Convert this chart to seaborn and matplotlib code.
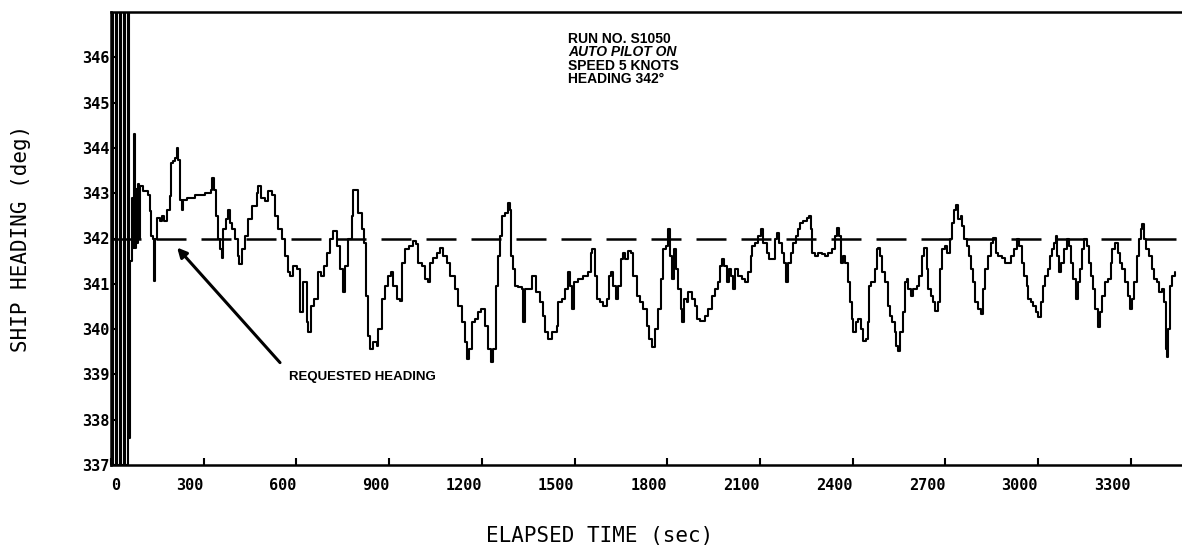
import matplotlib
matplotlib.use("Agg")
import matplotlib.pyplot as plt
import seaborn as sns
import pandas as pd

# Ship heading record, auto pilot run S1050
elapsed_s = [
    0, 4, 6, 16, 19, 29, 32, 42, 45, 55, 58, 62, 67, 70, 73, 75, 77, 80, 83, 86, 90, 94,
    105, 121, 127, 131, 137, 138, 142, 148, 157, 164, 172, 181, 191, 195, 202, 208, 212,
    218, 224, 229, 234, 245, 272, 304, 324, 327, 334, 339, 347, 353, 358, 364, 371, 378,
    385, 391, 401, 410, 414, 423, 434, 444, 455, 471, 477, 487, 499, 509, 520, 531, 542,
    553, 563, 574,
    579, 590, 601, 612, 622, 633, 639, 647, 658, 669, 680, 690, 698, 709, 720, 730, 741,
    752, 757, 768, 779, 784, 790, 798, 811, 820, 824, 833, 838, 849, 860, 865, 876, 887,
    898, 906, 914, 924, 935, 943, 951, 964, 978, 986, 995, 1005, 1016, 1025, 1032, 1043,
    1054, 1065, 1076, 1086, 1097, 1113, 1124, 1135, 1146,
    1151, 1158, 1167, 1178, 1189, 1199, 1210, 1221, 1230, 1237, 1245, 1251, 1259, 1266,
    1275, 1284, 1291, 1294, 1302, 1307, 1318, 1329, 1334, 1340, 1350, 1361, 1370, 1374,
    1388, 1399, 1404, 1413, 1426, 1442, 1448, 1458, 1469, 1480, 1485, 1493, 1499, 1512,
    1528, 1545, 1553, 1558, 1566, 1572, 1582, 1593, 1604, 1612, 1618, 1626, 1633, 1642,
    1650, 1658, 1663, 1674, 1682, 1690, 1701, 1712, 1723, 1733, 1741,
    1750, 1760, 1771, 1780, 1787, 1795, 1801, 1809, 1816, 1823, 1830, 1836, 1845, 1849,
    1855, 1863, 1868, 1879, 1890, 1895, 1906, 1922, 1933, 1944, 1955, 1963, 1971, 1978,
    1985, 1992, 2000, 2008, 2014, 2021, 2030, 2041, 2052, 2062, 2071, 2075, 2084, 2095,
    2103, 2111, 2122, 2129, 2138, 2149, 2154, 2162, 2170, 2179, 2186, 2192, 2200, 2208,
    2216, 2224, 2230, 2240, 2251, 2259, 2264, 2270, 2278, 2289, 2300,
    2310, 2321, 2332, 2343, 2348, 2356, 2362, 2370, 2377, 2384, 2391, 2397, 2402, 2410,
    2418, 2427, 2435, 2442, 2449, 2453, 2459, 2467, 2472, 2478, 2483, 2488, 2496, 2505,
    2513, 2521, 2528, 2537, 2542, 2546, 2553, 2564, 2569, 2575, 2580, 2589, 2596, 2607,
    2615, 2623, 2632, 2640, 2645, 2654, 2661, 2666, 2675, 2683, 2690, 2699, 2707, 2715,
    2723, 2729, 2734, 2742, 2751, 2755, 2761, 2769, 2776, 2783, 2791, 2796, 2805, 2815,
    2823, 2830, 2839, 2848, 2855, 2863, 2871, 2882, 2893,
    2902, 2912, 2923, 2931, 2938, 2947, 2956, 2963, 2969, 2977, 2985, 2992, 3001, 3010,
    3017, 3022, 3031, 3039, 3044, 3053, 3057, 3063, 3068, 3076, 3085, 3093, 3100, 3107,
    3114, 3122, 3128, 3136, 3143, 3150, 3157, 3165, 3173, 3179, 3186, 3193, 3200, 3208,
    3217, 3227, 3236, 3240, 3249, 3258, 3265, 3273, 3281, 3290, 3298, 3305, 3312, 3319,
    3327, 3333, 3337, 3344, 3351, 3359, 3368, 3376, 3384, 3391, 3400, 3409, 3413, 3416,
    3422, 3427, 3435, 3443,
]

heading_deg = [
    342.0, 347.0, 337.0, 347.0, 337.0, 347.0, 337.0, 347.0, 337.0, 347.0, 337.6, 341.5,
    342.9, 341.8, 343.0, 344.3, 341.8, 343.1, 341.9, 343.2, 342.0, 343.15,
    343.04, 342.97, 342.6, 342.05, 341.98, 341.06, 341.98, 342.45, 342.38, 342.5, 342.38,
    342.64, 342.93, 343.66, 343.70, 343.77, 343.99, 343.74, 342.86, 342.64, 342.86, 342.89,
    342.95, 343.0, 343.08, 343.33, 343.08, 342.49, 341.98, 341.76, 341.58, 342.2, 342.42,
    342.64, 342.34, 342.2, 341.98, 341.61, 341.43, 341.76, 342.05, 342.42, 342.71, 343.0,
    343.15, 342.89, 342.82, 343.04, 342.97, 342.49, 342.2, 341.98, 341.61, 341.25,
    341.17, 341.39, 341.32, 340.37, 341.03, 340.15, 339.93, 340.51, 340.66, 341.25, 341.17,
    341.39, 341.68, 341.98, 342.16, 341.83, 341.32, 340.81, 341.39, 341.98, 342.49, 343.08,
    343.08, 342.56, 342.2, 341.9, 340.73, 339.85, 339.56, 339.71, 339.63, 340.0, 340.66,
    340.95, 341.17, 341.25, 340.95, 340.66, 340.62, 341.47, 341.76, 341.83, 341.94, 341.87,
    341.47, 341.39, 341.10, 341.03, 341.47, 341.58, 341.68, 341.79, 341.61, 341.47, 341.17,
    340.88, 340.51, 340.15, 339.71,
    339.34, 339.56, 340.15, 340.22, 340.37, 340.44, 340.07, 339.56, 339.27, 339.56, 340.95,
    341.61, 342.05, 342.49, 342.56, 342.78, 342.64, 341.61, 341.32, 340.95, 340.92, 340.88,
    340.15, 340.88, 340.88, 341.17, 341.17, 340.81, 340.59, 340.29, 339.93, 339.78, 339.93,
    340.07, 340.59, 340.66, 340.88, 341.25, 340.95, 340.44, 341.03, 341.10, 341.17, 341.25,
    341.68, 341.76, 341.17, 340.66, 340.59, 340.51, 340.66, 341.17, 341.25, 340.95, 340.66,
    340.95, 341.54, 341.68, 341.54, 341.72, 341.68, 341.17, 340.73, 340.59, 340.44, 340.07,
    339.78,
    339.6, 340.0, 340.44, 341.10, 341.76, 341.83, 342.2, 341.61, 341.10, 341.76, 341.32,
    340.88, 340.44, 340.15, 340.66, 340.59, 340.81, 340.66, 340.51, 340.22, 340.18, 340.29,
    340.44, 340.73, 340.88, 341.03, 341.39, 341.54, 341.39, 341.03, 341.32, 341.17, 340.88,
    341.32, 341.17, 341.10, 341.03, 341.25, 341.61, 341.83, 341.90, 342.05, 342.2, 341.90,
    341.68, 341.54, 341.54, 341.98, 342.12, 341.90, 341.68, 341.47, 341.03, 341.47, 341.68,
    341.90, 342.05, 342.2, 342.34, 342.38, 342.45, 342.49, 342.2, 341.68, 341.61, 341.68,
    341.65,
    341.61, 341.68, 341.76, 342.05, 342.23, 342.05, 341.47, 341.61, 341.47, 341.03, 340.59,
    340.22, 339.93, 340.15, 340.22, 340.0, 339.74, 339.78, 340.15, 340.95, 341.03, 341.03,
    341.32, 341.76, 341.79, 341.61, 341.25, 341.03, 340.51, 340.29, 340.15, 339.93, 339.63,
    339.52, 339.93, 340.37, 341.03, 341.10, 340.88, 340.73, 340.88, 340.95, 341.17, 341.61,
    341.79, 341.32, 340.88, 340.73, 340.59, 340.40, 340.59, 341.32, 341.76, 341.83, 341.68,
    341.98, 342.34, 342.64, 342.75, 342.42, 342.49, 342.27, 341.98, 341.83, 341.61, 341.32,
    341.03, 340.59, 340.44, 340.33, 340.88, 341.32, 341.61, 341.90, 342.01, 341.68, 341.61,
    341.58, 341.47,
    341.47, 341.61, 341.76, 341.98, 341.83, 341.47, 341.17, 340.95, 340.66, 340.59, 340.51,
    340.37, 340.26, 340.59, 340.95, 341.17, 341.32, 341.61, 341.76, 341.90, 342.05, 341.61,
    341.25, 341.47, 341.76, 341.98, 341.83, 341.47, 341.10, 340.66, 341.03, 341.32, 341.76,
    341.98, 341.83, 341.47, 341.17, 340.88, 340.44, 340.04, 340.37, 340.73, 341.03, 341.10,
    341.47, 341.76, 341.90, 341.68, 341.47, 341.32, 341.03, 340.73, 340.44, 340.66, 341.03,
    341.61, 341.98, 342.2, 342.31, 341.98, 341.76, 341.61, 341.32, 341.10, 341.03, 340.81,
    340.88, 340.59, 339.56, 339.38, 340.0, 340.95, 341.17, 341.25,
]

requested_heading = 342.0
x_ticks = [0, 300, 600, 900, 1200, 1500, 1800, 2100, 2400, 2700, 3000, 3300]
y_ticks = [337, 338, 339, 340, 341, 342, 343, 344, 345, 346]
run_info = ["RUN NO. S1050", "AUTO PILOT ON", "SPEED 5 KNOTS", "HEADING 342°"]
run_info_italic = [False, True, False, False]
requested_label = "REQUESTED HEADING"

sns.set_style("ticks")
plt.rcParams["font.family"] = ["DejaVu Sans Mono", "DejaVu Sans"]
plt.rcParams.update({
    "text.color": "black",
    "axes.labelcolor": "black",
    "xtick.color": "black",
    "ytick.color": "black",
    "axes.edgecolor": "black",
})

W, H = 1182, 552
fig = plt.figure(figsize=(W / 100, H / 100), dpi=100)
left_px, right_px, top_px, bottom_px = 111, 1182, 12, 465
ax = fig.add_axes([left_px / W, 1 - bottom_px / H,
                   (right_px - left_px) / W, (bottom_px - top_px) / H])

df = pd.DataFrame({"elapsed": elapsed_s, "heading": heading_deg})
sns.lineplot(data=df, x="elapsed", y="heading", ax=ax, color="black",
             linewidth=1.5, drawstyle="steps-post", estimator=None, sort=False)

ax.axhline(requested_heading, color="black", linewidth=1.8, dashes=(12, 6))

ax.set_xlim(0, 3466)
ax.set_ylim(337, 347)

ax.set_xticks(x_ticks)
ax.set_xticklabels([str(v) for v in x_ticks], fontsize=11, fontweight="bold")
for i, lbl in enumerate(ax.get_xticklabels()):
    lbl.set_ha("left" if i == 0 else "right")
ax.set_yticks(y_ticks)
ax.set_yticklabels([str(v) for v in y_ticks], fontsize=11, fontweight="bold")

ax.tick_params(axis="x", direction="in", length=5, width=1.5, pad=9)
ax.tick_params(axis="y", direction="in", length=5, width=1.5, pad=1)

for side in ("left", "bottom", "top"):
    ax.spines[side].set_linewidth(1.8)
    ax.spines[side].set_color("black")
ax.spines["right"].set_visible(False)

ax.set_xlabel("ELAPSED TIME (sec)", fontsize=15)
ax.xaxis.set_label_coords((600 - left_px) / (right_px - left_px),
                          (bottom_px - 536) / (bottom_px - top_px))
ax.xaxis.label.set_va("center")
ax.set_ylabel("SHIP HEADING (deg)", fontsize=15)
ax.yaxis.set_label_coords((21 - left_px) / (right_px - left_px), 0.5)
ax.yaxis.label.set_va("center")

# Run description block
label_font = ["Liberation Sans", "DejaVu Sans"]
info_y = [346.41, 346.12, 345.81, 345.51]
for text, yv, it in zip(run_info, info_y, run_info_italic):
    ax.text(1479, yv, text, family=label_font, fontsize=10, fontweight="bold",
            style="italic" if it else "normal", ha="left", va="center",
            color="black")

# Requested heading callout
ax.annotate("", xy=(214, 341.8), xytext=(547, 339.26),
            arrowprops=dict(arrowstyle="-|>", color="black", lw=2.2,
                            mutation_scale=14, shrinkA=0, shrinkB=0))
ax.text(576, 338.95, requested_label, family=label_font, fontsize=9.5,
        fontweight="bold", ha="left", va="center", color="black")

fig.savefig("out.png", dpi=100)
